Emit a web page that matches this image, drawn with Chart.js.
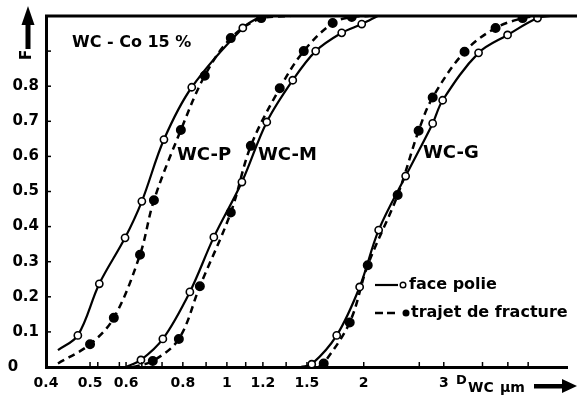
<!DOCTYPE html>
<html>
<head>
<meta charset="utf-8">
<script src="https://cdn.jsdelivr.net/npm/chart.js@4/dist/chart.umd.min.js"></script>
<style>
  body { margin: 0; background: #fff; }
  canvas { display: block; }
</style>
</head>
<body>
<canvas id="chart" width="577" height="401"></canvas>
<script>
// --- data (D in µm, F cumulative fraction) ---
const xTickValues = [0.4, 0.5, 0.6, 0.8, 1, 1.2, 1.5, 2, 3];
const xMinorTicks = [0.52, 0.58, 0.65, 0.72, 0.9, 1.1, 1.35, 2.65, 3.65, 4.15, 4.6];
const yTickValues = [0, 0.1, 0.2, 0.3, 0.4, 0.5, 0.6, 0.7, 0.8, 0.9, 1];

const pPolieD = [0.425, 0.470, 0.524, 0.597, 0.650, 0.727, 0.837, 1.084, 1.19];
const pPolieF = [0.048, 0.09, 0.237, 0.368, 0.472, 0.648, 0.797, 0.966, 1.0];
const pTrajetD = [0.425, 0.500, 0.564, 0.644, 0.691, 0.792, 0.894, 1.020, 1.19, 1.38];
const pTrajetF = [0.01, 0.065, 0.14, 0.32, 0.475, 0.675, 0.83, 0.937, 0.994, 1.0];

const mPolieD = [0.600, 0.647, 0.723, 0.829, 0.936, 1.079, 1.224, 1.396, 1.568, 1.789, 1.980, 2.146];
const mPolieF = [0.0, 0.02, 0.08, 0.214, 0.37, 0.527, 0.698, 0.817, 0.90, 0.952, 0.977, 1.0];
const mTrajetD = [0.621, 0.687, 0.784, 0.872, 1.020, 1.129, 1.307, 1.476, 1.709, 1.882, 2.05];
const mTrajetF = [0.0, 0.017, 0.08, 0.23, 0.44, 0.63, 0.794, 0.90, 0.98, 0.997, 1.0];

const gPolieD = [1.454, 1.537, 1.744, 1.959, 2.157, 2.473, 2.836, 2.983, 3.578, 4.144, 4.823, 5.15];
const gPolieF = [0.0, 0.008, 0.09, 0.228, 0.39, 0.544, 0.694, 0.76, 0.895, 0.946, 0.994, 1.0];
const gTrajetD = [1.59, 1.633, 1.863, 2.041, 2.375, 2.641, 2.836, 3.333, 3.900, 4.472, 4.8];
const gTrajetF = [0.0, 0.01, 0.127, 0.29, 0.49, 0.673, 0.768, 0.898, 0.966, 0.994, 1.0];

const BOLD = '"DejaVu Sans", sans-serif';

// curve ends carry no marker, the measured points in between do
function makeSeries(label, ds, fs, dashed) {
    return {
        label: label,
        data: ds.map((d, i) => ({ x: d, y: fs[i] })),
        borderColor: '#000',
        borderWidth: dashed ? 2.5 : 2.2,
        borderDash: dashed ? [7, 5] : [],
        tension: 0.35,
        pointStyle: 'circle',
        pointRadius: (ctx) => {
            const n = ctx.dataset.data.length;
            if (ctx.dataIndex === 0 || ctx.dataIndex === n - 1) return 0;
            return dashed ? 4.2 : 3.6;
        },
        pointBackgroundColor: dashed ? '#000' : '#fff',
        pointBorderColor: '#000',
        pointBorderWidth: 1.6,
        fill: false
    };
}

const decorPlugin = {
    id: 'decor',
    afterDraw(chart) {
        const c = chart.ctx;
        const area = chart.chartArea;
        const xs = chart.scales.x, ys = chart.scales.y;
        c.save();
        c.strokeStyle = '#000';
        c.fillStyle = '#000';

        // top frame line
        c.lineWidth = 3;
        c.beginPath();
        c.moveTo(area.left - 1, area.top);
        c.lineTo(chart.width, area.top);
        c.stroke();

        // inside tick marks
        c.lineWidth = 1.5;
        yTickValues.forEach(v => {
            const y = ys.getPixelForValue(v);
            c.beginPath(); c.moveTo(area.left, y); c.lineTo(area.left + 5, y); c.stroke();
        });
        xTickValues.concat(xMinorTicks).forEach(v => {
            const x = xs.getPixelForValue(v);
            c.beginPath(); c.moveTo(x, area.bottom); c.lineTo(x, area.bottom - 5); c.stroke();
        });

        // annotations
        c.textBaseline = 'middle';
        c.textAlign = 'left';
        c.font = 'bold 16px ' + BOLD;
        c.fillText('WC - Co 15 %', 72, 43);
        c.font = 'bold 18px ' + BOLD;
        c.fillText('WC-P', 177, 155);
        c.fillText('WC-M', 258, 155);
        c.fillText('WC-G', 423, 153);

        // legend
        c.lineWidth = 2.2;
        c.beginPath(); c.moveTo(375, 285); c.lineTo(398, 285); c.stroke();
        c.fillStyle = '#fff';
        c.lineWidth = 1.4;
        c.beginPath(); c.arc(403, 285, 2.8, 0, Math.PI * 2); c.fill(); c.stroke();
        c.fillStyle = '#000';
        c.lineWidth = 2.5;
        c.setLineDash([8, 4]);
        c.beginPath(); c.moveTo(375, 313); c.lineTo(399, 313); c.stroke();
        c.setLineDash([]);
        c.beginPath(); c.arc(406, 313, 3.5, 0, Math.PI * 2); c.fill();
        c.font = 'bold 16px ' + BOLD;
        c.fillText('face polie', 409, 285);
        c.fillText('trajet de fracture', 411, 313);

        // y-axis title F with arrow
        c.save();
        c.translate(26, 55);
        c.rotate(-Math.PI / 2);
        c.textAlign = 'center';
        c.font = 'bold 15px ' + BOLD;
        c.fillText('F', 0, 1);
        c.restore();
        c.fillRect(25.5, 22, 5, 27);
        c.beginPath(); c.moveTo(28, 6); c.lineTo(34.5, 25); c.lineTo(21.5, 25); c.closePath(); c.fill();

        // x-axis title D_WC µm with arrow
        c.textBaseline = 'alphabetic';
        c.font = 'bold 13px ' + BOLD;
        c.fillText('D', 456, 384);
        c.font = 'bold 14px ' + BOLD;
        c.fillText('WC', 468, 392);
        c.fillText('µm', 500, 392);
        c.fillRect(534, 384, 32, 4.5);
        c.beginPath(); c.moveTo(577, 386); c.lineTo(562, 379); c.lineTo(562, 393); c.closePath(); c.fill();
        c.restore();
    }
};

new Chart(document.getElementById('chart'), {
    type: 'line',
    data: {
        datasets: [
            makeSeries('WC-P face polie', pPolieD, pPolieF, false),
            makeSeries('WC-P trajet de fracture', pTrajetD, pTrajetF, true),
            makeSeries('WC-M face polie', mPolieD, mPolieF, false),
            makeSeries('WC-M trajet de fracture', mTrajetD, mTrajetF, true),
            makeSeries('WC-G face polie', gPolieD, gPolieF, false),
            makeSeries('WC-G trajet de fracture', gTrajetD, gTrajetF, true)
        ]
    },
    options: {
        responsive: false,
        animation: false,
        layout: { padding: { left: 0, top: 11, right: 10, bottom: 0 } },
        plugins: { legend: { display: false }, tooltip: { enabled: false } },
        scales: {
            x: {
                type: 'logarithmic',
                min: 0.4, max: 5.6,
                afterBuildTicks: (scale) => { scale.ticks = xTickValues.map(v => ({ value: v })); },
                afterFit: (scale) => { scale.height = 34; },
                grid: { display: true, drawOnChartArea: false, drawTicks: false },
                border: { display: true, color: '#000', width: 3 },
                ticks: {
                    autoSkip: false, maxRotation: 0, padding: 8, color: '#000',
                    font: { family: BOLD, size: 14, weight: 'bold' },
                    callback: (v) => String(v)
                }
            },
            y: {
                min: 0, max: 1,
                afterBuildTicks: (scale) => { scale.ticks = yTickValues.map(v => ({ value: v })); },
                afterFit: (scale) => { scale.width = 46; },
                grid: { display: true, drawOnChartArea: false, drawTicks: false },
                border: { display: true, color: '#000', width: 3 },
                ticks: {
                    padding: 7, color: '#000',
                    font: { family: BOLD, size: 15, weight: 'bold' },
                    // the zero sits further left in the original
                    callback: (v) => v > 0.85 ? '' : (v === 0 ? '0    ' : v.toFixed(1))
                }
            }
        }
    },
    plugins: [decorPlugin]
});
</script>
</body>
</html>
